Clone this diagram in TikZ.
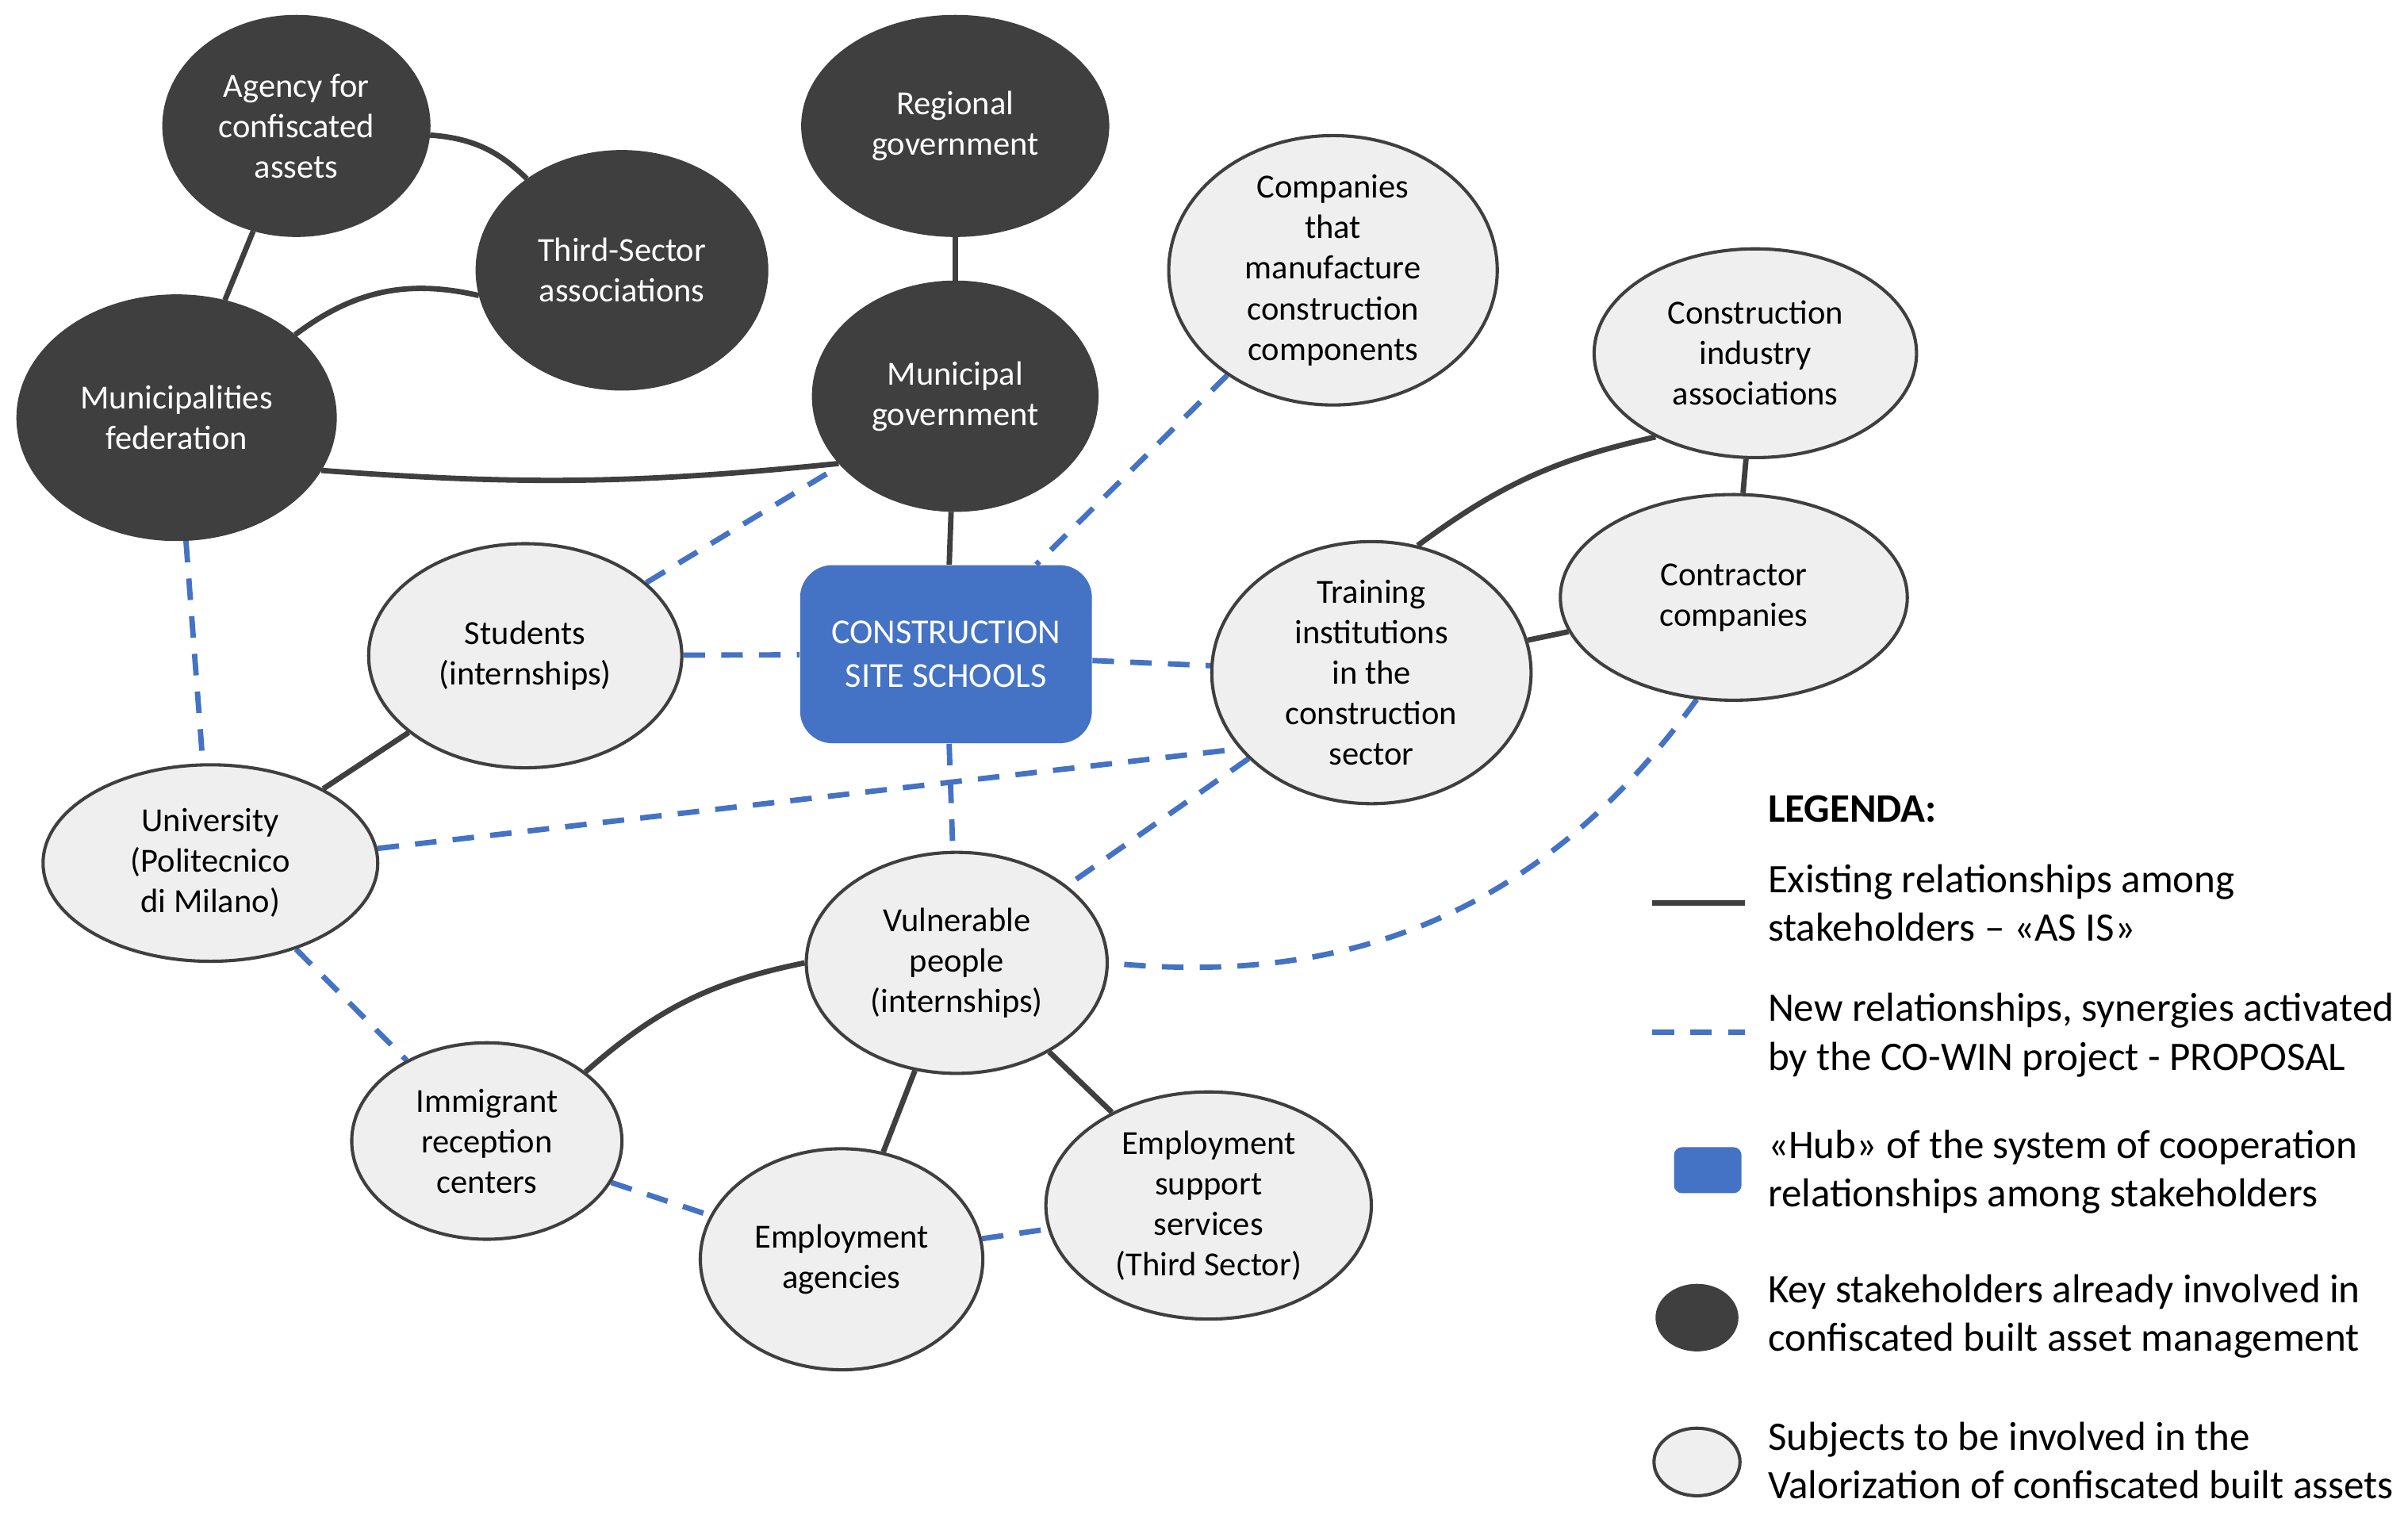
\documentclass[tikz,border=0pt]{standalone}
\usepackage{fontspec}
\setmainfont{Carlito}
\usetikzlibrary{shapes.geometric}
\pgfdeclarelayer{bg}\pgfsetlayers{bg,main}
\definecolor{dk}{HTML}{3F3F3F}
\definecolor{lt}{HTML}{EFEFEF}
\definecolor{bl}{HTML}{4472C4}
\begin{document}
\begin{tikzpicture}[x=0.02cm,y=-0.02cm,
 dkn/.style={ellipse,fill=dk,text=white,draw=dk,inner sep=0pt,align=center,font=\fontsize{12.5}{15}\selectfont},
 ltn/.style={ellipse,fill=lt,draw=dk,line width=1.2pt,inner sep=0pt,align=center,font=\fontsize{12.5}{15}\selectfont},
 ex/.style={draw=dk,line width=2pt},
 nw/.style={draw=bl,line width=2pt,dash pattern=on 8pt off 6pt},
 lg/.style={anchor=west,align=left,font=\fontsize{15}{18}\selectfont}]
\useasboundingbox (0,0) rectangle (1568,991);
\def\E#1#2#3#4#5#6{\node[#1,minimum width=#4*0.04cm,minimum height=#5*0.04cm] (#2) at #3 {#6};}
\E{dkn}{agency}{(193,82)}{87}{72}{Agency for\\confiscated\\assets}
\E{dkn}{third}{(405,176)}{95}{78}{Third-Sector\\associations}
\E{dkn}{regional}{(622,82)}{100}{72}{Regional\\government}
\E{dkn}{munfed}{(115,272)}{104}{80}{Municipalities\\federation}
\E{dkn}{municipal}{(622,258)}{93}{75}{Municipal\\government}
\E{ltn}{companies}{(868,176)}{107}{75}{Companies\\that\\manufacture\\construction\\components}
\E{ltn}{cia}{(1143,230)}{105}{68}{Construction\\industry\\associations}
\E{ltn}{contractor}{(1129,389)}{113}{67}{Contractor\\companies}
\E{ltn}{training}{(893,438)}{104}{84}{Training\\institutions\\in the\\construction\\sector}
\E{ltn}{students}{(342,427)}{102}{73}{Students\\(internships)}
\E{ltn}{univ}{(137,562)}{109}{64}{University\\(Politecnico\\di Milano)}
\E{ltn}{vuln}{(623,627)}{98}{72}{Vulnerable\\people\\(internships)}
\E{ltn}{immig}{(317,743)}{88}{64}{Immigrant\\reception\\centers}
\E{ltn}{empag}{(548,820)}{92}{72}{Employment\\agencies}
\E{ltn}{empsup}{(787,785)}{106}{74}{Employment\\support\\services\\(Third Sector)}
\node[fill=bl,rounded corners=12pt,minimum width=190*0.02cm,minimum height=116*0.02cm,text=white,align=center,font=\fontsize{13}{16}\selectfont] (hub) at (616,426) {CONSTRUCTION\\SITE SCHOOLS};
\begin{pgfonlayer}{bg}
\draw[ex] (agency) to[bend left=20] (third);
\draw[ex] (agency) -- (munfed);
\draw[ex] (third.190) to[bend right=25] (munfed.35);
\draw[ex] (munfed.-20) to[bend right=5] (municipal.-150);
\draw[ex] (regional) -- (municipal);
\draw[ex] (municipal) -- (hub);
\draw[ex] (training.70) to[bend left=12] (cia.-140);
\draw[ex] (cia) -- (contractor);
\draw[ex] (training) -- (contractor);
\draw[ex] (students) -- (univ);
\draw[ex] (vuln.180) to[bend right=15] (immig.35);
\draw[ex] (vuln) -- (empag);
\draw[ex] (vuln) -- (empsup);
\draw[nw] (munfed) -- (univ);
\draw[nw] (students) -- (municipal);
\draw[nw] (students) -- (hub);
\draw[nw] (companies) -- (hub);
\draw[nw] (hub) -- (training);
\draw[nw] (hub) -- (vuln);
\draw[nw] (univ.5) -- (training.-150);
\draw[nw] (training) -- (vuln);
\draw[nw] (contractor.-110) to[bend left=30] (vuln.0);
\draw[nw] (univ) -- (immig);
\draw[nw] (immig) -- (empag);
\draw[nw] (empag) -- (empsup);
\end{pgfonlayer}
% legend
\node[lg,font=\fontsize{15}{18}\selectfont\bfseries] (lt) at (1145,527) {LEGENDA:};
\coordinate (l1a) at (1076,588); \coordinate (l1b) at (1136,588);
\draw[ex] (l1a) -- (l1b);
\node[lg] (t1) at (1145,588) {Existing relationships among\\stakeholders – «AS IS»};
\coordinate (l2a) at (1076,672); \coordinate (l2b) at (1136,672);
\draw[nw] (l2a) -- (l2b);
\node[lg] (t2) at (1145,674) {New relationships, synergies activated\\by the CO-WIN project - PROPOSAL};
\node[fill=bl,rounded corners=3pt,minimum width=44*0.02cm,minimum height=30*0.02cm] (lh) at (1112,762) {};
\node[lg] (t3) at (1145,763) {«Hub» of the system of cooperation\\relationships among stakeholders};
\node[ellipse,fill=dk,minimum width=54*0.02cm,minimum height=44*0.02cm] (ld) at (1105,858) {};
\node[lg] (t4) at (1145,857) {Key stakeholders already involved in\\confiscated built asset management};
\node[ellipse,fill=lt,draw=dk,line width=1.2pt,minimum width=56*0.02cm,minimum height=44*0.02cm] (ll) at (1105,952) {};
\node[lg] (t5) at (1145,951) {Subjects to be involved in the\\Valorization of confiscated built assets};
\end{tikzpicture}
\end{document}
